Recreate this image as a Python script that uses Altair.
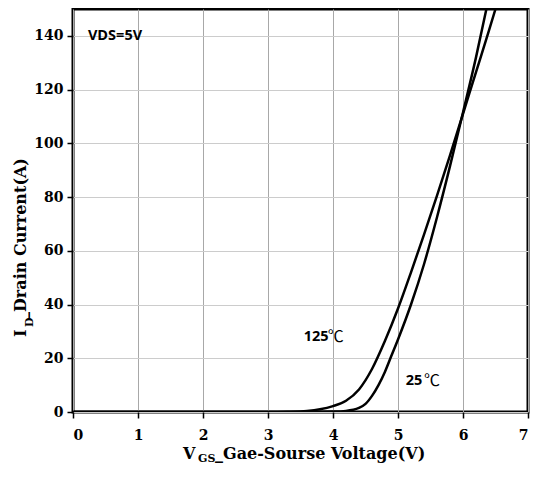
import altair as alt
import pandas as pd

# 125 °C transfer curve
vgs_125 = [0.0, 3.0, 3.3, 3.6, 3.8, 4.0, 4.2, 4.4, 4.6, 4.8, 5.0, 5.2, 5.4, 5.6, 5.8, 6.0, 6.2, 6.4, 6.5]
id_125 = [0.0, 0.0, 0.1, 0.4, 1.0, 2.2, 4.2, 8.4, 16.0, 26.5, 38.5, 52.0, 66.0, 80.5, 95.5, 111.0, 126.5, 142.0, 150.0]
# 25 °C transfer curve
vgs_25 = [0.0, 3.5, 4.0, 4.2, 4.4, 4.5, 4.6, 4.7, 4.8, 4.9, 5.0, 5.2, 5.4, 5.6, 5.8, 6.0, 6.2, 6.36]
id_25 = [0.0, 0.0, 0.15, 0.4, 1.5, 3.0, 6.0, 10.0, 15.0, 21.0, 27.0, 40.0, 55.0, 72.5, 91.5, 111.5, 132.0, 150.0]

x_ticks = [0, 1, 2, 3, 4, 5, 6, 7]
y_ticks = [0, 20, 40, 60, 80, 100, 120, 140]

# annotations
ann_text = ["VDS=5V", "125", "25"]
ann_x = [0.23, 3.55, 5.12]
ann_y = [140, 28, 11.5]
deg_text = ["℃", "℃"]
deg_x = [3.92, 5.40]
deg_y = [28, 11.5]

curves = pd.concat([
    pd.DataFrame({"vgs": vgs_125, "id": id_125, "temp": "125℃"}),
    pd.DataFrame({"vgs": vgs_25, "id": id_25, "temp": "25℃"}),
])
ann = pd.DataFrame({"x": ann_x, "y": ann_y, "t": ann_text})
deg = pd.DataFrame({"x": deg_x, "y": deg_y, "t": deg_text})

xs = alt.Scale(domain=[0, 7], nice=False, zero=False)
ys = alt.Scale(domain=[0, 150], nice=False, zero=False)

serif = "DejaVu Serif"

x_axis = alt.Axis(values=x_ticks, format="d", title=None, grid=True, gridColor="#a8a8a8", gridWidth=1,
                  domain=False, tickColor="black", tickWidth=1.5, tickSize=6,
                  labelFont=serif, labelFontWeight="bold", labelFontSize=14, labelColor="black",
                  labelPadding=10)
y_axis = alt.Axis(values=y_ticks, format="d", title=None, grid=True, gridColor="#cccccc", gridWidth=1,
                  domain=False, tickColor="black", tickWidth=1.5, tickSize=6,
                  labelFont=serif, labelFontWeight="bold", labelFontSize=14, labelColor="black",
                  labelPadding=4)

lines = alt.Chart(curves).mark_line(color="black", strokeWidth=2.5, interpolate="monotone", clip=True).encode(
    x=alt.X("vgs:Q", scale=xs, axis=x_axis),
    y=alt.Y("id:Q", scale=ys, axis=y_axis),
    detail="temp:N",
)

labels = alt.Chart(ann).mark_text(font="Open Sans", fontWeight="bold", fontSize=14.5, align="left",
                                  baseline="middle", color="black").encode(
    x=alt.X("x:Q", scale=xs), y=alt.Y("y:Q", scale=ys), text="t:N")

degs = alt.Chart(deg).mark_text(font="Noto Sans CJK SC", fontSize=16, align="left",
                                baseline="middle", color="black").encode(
    x=alt.X("x:Q", scale=xs), y=alt.Y("y:Q", scale=ys), text="t:N")


def piece(text, px, py, size, angle=0):
    kw = dict(font=serif, fontWeight="bold", fontSize=size, align="left",
              baseline="alphabetic", color="black")
    if angle:
        kw["angle"] = angle
    return alt.Chart(pd.DataFrame({"t": [text]})).mark_text(**kw).encode(
        x=alt.value(px), y=alt.value(py), text="t:N")


# x-axis title: V_GS_Gae-Sourse Voltage(V)
xt1 = piece("V", 110, 450, 16)
xt2 = piece("GS", 125, 453, 11)
xt3 = piece("_Gae-Sourse Voltage(V)", 142, 450, 16)
# y-axis title: I_D_Drain Current(A)
yt1 = piece("I", -47, 328, 16, 270)
yt2 = piece("D", -40, 318, 11, 270)
yt3 = piece("_Drain Current(A)", -47, 311, 16, 270)

chart = alt.layer(lines, labels, degs, xt1, xt2, xt3, yt1, yt2, yt3).properties(
    width=455, height=403,
    autosize=alt.AutoSizeParams(type="none"),
    padding={"left": 65, "top": 1, "right": 2, "bottom": 54},
).configure_view(stroke="black", strokeWidth=3)

chart.save("out.html", embed_options={"renderer": "svg", "actions": False})
